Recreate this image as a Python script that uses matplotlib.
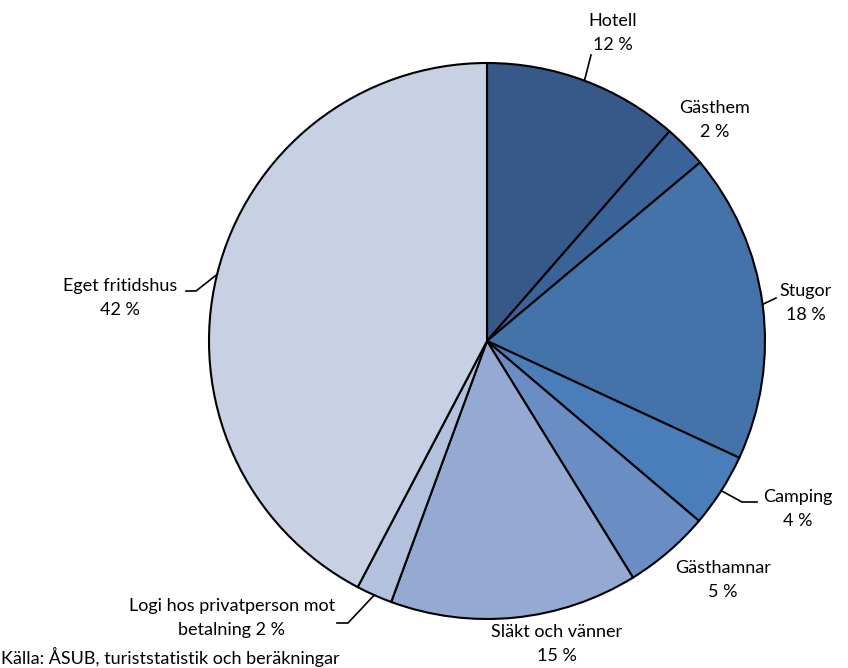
import numpy as np
import matplotlib.pyplot as plt

plt.rcParams['font.family'] = ['Lato', 'DejaVu Sans']

# Data
categories = ['Hotell', 'Gästhem', 'Stugor', 'Camping', 'Gästhamnar',
              'Släkt och vänner', 'Logi hos privatperson mot\nbetalning', 'Eget fritidshus']
shares = [11.4, 2.5, 18.0, 4.3, 5.0, 14.4, 2.1, 42.3]
pct_labels = [12, 2, 18, 4, 5, 15, 2, 42]                # as printed on chart
colors = ['#36598a', '#3a6499', '#4473a9', '#4a7ebb', '#6a8ec4',
          '#95aad3', '#b1c1de', '#c8d0e3']

W, H = 848, 668
cx, cy, r = 487, 341, 278

fig = plt.figure(figsize=(W / 100, H / 100), dpi=100)
ax = fig.add_axes([(cx - r) / W, (H - cy - r) / H, 2 * r / W, 2 * r / H])

wedges, _ = ax.pie(shares, colors=colors, startangle=90, counterclock=False,
                   radius=1, wedgeprops=dict(edgecolor='black', linewidth=1.5))
ax.set_xlim(-1, 1)
ax.set_ylim(-1, 1)
ax.set_aspect('equal')
ax.axis('off')


def px(x, y):
    return (x - cx) / r, (cy - y) / r


# label text centre (pixels), leader elbow point and horizontal tail (pixels)
label_pos = [(613, 33), (715, 120), (806, 303), (798, 509), (723, 580),
             (557, 644), (232, 618), (120, 298)]
elbows = [(591, 55), None, (776, 298), (742, 502), None, None, (348, 623), (196, 291)]
tails = [0, 0, 0, 15, 0, 0, -11, -10]

for w, name, p, pos, elb, tail in zip(wedges, categories, pct_labels,
                                      label_pos, elbows, tails):
    ang = np.deg2rad((w.theta1 + w.theta2) / 2)
    ex, ey = np.cos(ang), np.sin(ang)
    if '\n' in name:
        txt = name.replace('\nbetalning', '\nbetalning %d %%' % p)
    else:
        txt = '%s\n%d %%' % (name, p)
    tx, ty = px(*pos)
    ax.text(tx, ty, txt, ha='center', va='center', fontsize=13,
            linespacing=1.6, color='black')
    if elb is not None:
        bx, by = px(*elb)
        xs = [ex, bx, bx + tail / r]
        ys = [ey, by, by]
        ax.plot(xs, ys, color='black', lw=1.2, clip_on=False)

fig.text(1 / W, 1 - 657 / H, 'Källa: ÅSUB, turiststatistik och beräkningar',
         ha='left', va='center', fontsize=13)

fig.savefig('out.png', dpi=100)
